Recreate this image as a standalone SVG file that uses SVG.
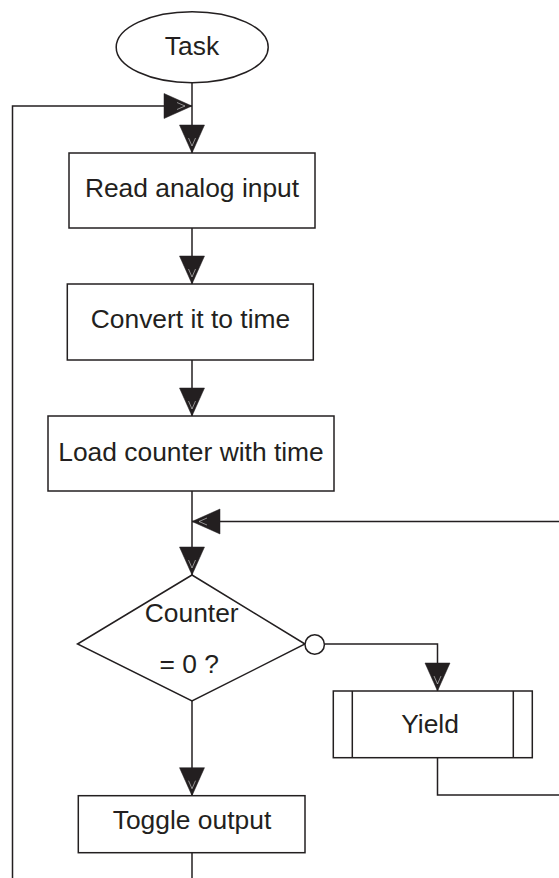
<svg xmlns="http://www.w3.org/2000/svg" width="559" height="878" viewBox="0 0 559 878">
<style>
.shape{fill:#ffffff;stroke:#231f20;stroke-width:1.5}
.wire{fill:none;stroke:#231f20;stroke-width:1.5}
.lbl{font-family:"Liberation Sans",Arial,sans-serif;font-size:26.4px;fill:#231f20;text-anchor:middle}
</style>
<defs>
<marker id="arr" markerUnits="userSpaceOnUse" orient="auto" viewBox="-29 -13 30 26" refX="0" refY="0" markerWidth="30" markerHeight="26" overflow="visible">
<path d="M0,0 L-28,-12.5 L-28,12.5 Z" fill="#231f20" stroke="#231f20" stroke-width="0.5" stroke-linejoin="miter"/>
<polyline points="-15,-3.5 -7,0 -15,3.5" fill="none" stroke="#ffffff" stroke-width="0.5"/>
</marker>
</defs>
<rect width="559" height="878" fill="#ffffff"/>
<g id="connectors">
<line class="wire" x1="192" y1="83" x2="192" y2="153" marker-end="url(#arr)"/>
<path class="wire" d="M12.5,878 V106 H192" marker-end="url(#arr)"/>
<line class="wire" x1="192" y1="228" x2="192" y2="284" marker-end="url(#arr)"/>
<line class="wire" x1="192" y1="360" x2="192" y2="416" marker-end="url(#arr)"/>
<line class="wire" x1="192" y1="491" x2="192" y2="575" marker-end="url(#arr)"/>
<line class="wire" x1="559" y1="521.5" x2="192" y2="521.5" marker-end="url(#arr)"/>
<path class="wire" d="M324.4,644 H437.5 V691" marker-end="url(#arr)"/>
<path class="wire" d="M437.5,757.7 V795 H559"/>
<line class="wire" x1="192" y1="701" x2="192" y2="795.7" marker-end="url(#arr)"/>
<line class="wire" x1="192" y1="852.7" x2="192" y2="878"/>
</g>
<g id="task">
<ellipse class="shape" cx="192.2" cy="47.2" rx="76" ry="35.5"/>
<text class="lbl" x="192" y="55">Task</text>
</g>
<g id="read">
<rect class="shape" x="69" y="153" width="246" height="75"/>
<text class="lbl" x="192" y="196.7">Read analog input</text>
</g>
<g id="convert">
<rect class="shape" x="67.3" y="284" width="246" height="76"/>
<text class="lbl" x="190.5" y="328">Convert it to time</text>
</g>
<g id="load">
<rect class="shape" x="48" y="416" width="286" height="75"/>
<text class="lbl" x="191" y="460.7">Load counter with time</text>
</g>
<g id="decision">
<polygon class="shape" points="192,575 305,644 192,701 77.5,644"/>
<text class="lbl" x="191.7" y="622">Counter</text>
<text class="lbl" x="189.2" y="673.3">= 0 ?</text>
<circle class="shape" cx="314.7" cy="644.5" r="9.7"/>
</g>
<g id="yield">
<rect class="shape" x="333.3" y="691" width="199" height="66.7"/>
<line class="wire" x1="352.3" y1="691" x2="352.3" y2="757.7"/>
<line class="wire" x1="513.3" y1="691" x2="513.3" y2="757.7"/>
<text class="lbl" x="430" y="733">Yield</text>
</g>
<g id="toggle">
<rect class="shape" x="78.3" y="795.7" width="226.7" height="57"/>
<text class="lbl" x="192" y="829.3">Toggle output</text>
</g>
</svg>
